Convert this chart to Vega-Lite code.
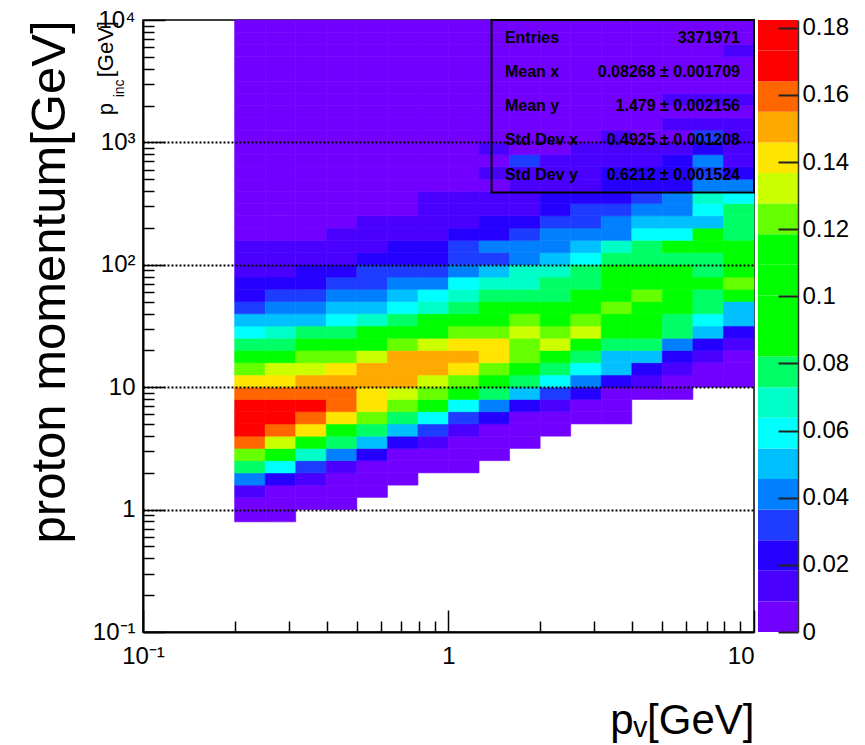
{
"$schema": "https://vega.github.io/schema/vega-lite/v6.json",
"background": "white",
"padding": {"left": 24, "top": 7, "right": 5, "bottom": 2},
"config": {"font": "Liberation Sans", "view": {"stroke": null}, "axis": {"domainColor": "black", "tickColor": "black", "labelColor": "black", "titleColor": "black", "labelFont": "Liberation Sans"}},
"spacing": 2,
"datasets": {
"xb": [{"c":0,"x0":0.1995,"x1":0.2512},{"c":1,"x0":0.2512,"x1":0.3162},{"c":2,"x0":0.3162,"x1":0.3981},{"c":3,"x0":0.3981,"x1":0.5012},{"c":4,"x0":0.5012,"x1":0.631},{"c":5,"x0":0.631,"x1":0.7943},{"c":6,"x0":0.7943,"x1":1},{"c":7,"x0":1,"x1":1.2589},{"c":8,"x0":1.2589,"x1":1.5849},{"c":9,"x0":1.5849,"x1":1.9953},{"c":10,"x0":1.9953,"x1":2.5119},{"c":11,"x0":2.5119,"x1":3.1623},{"c":12,"x0":3.1623,"x1":3.9811},{"c":13,"x0":3.9811,"x1":5.0119},{"c":14,"x0":5.0119,"x1":6.3096},{"c":15,"x0":6.3096,"x1":7.9433},{"c":16,"x0":7.9433,"x1":10}],
"yb": [{"r":0,"y0":0.7943,"y1":1},{"r":1,"y0":1,"y1":1.2589},{"r":2,"y0":1.2589,"y1":1.5849},{"r":3,"y0":1.5849,"y1":1.9953},{"r":4,"y0":1.9953,"y1":2.5119},{"r":5,"y0":2.5119,"y1":3.1623},{"r":6,"y0":3.1623,"y1":3.9811},{"r":7,"y0":3.9811,"y1":5.0119},{"r":8,"y0":5.0119,"y1":6.3096},{"r":9,"y0":6.3096,"y1":7.9433},{"r":10,"y0":7.9433,"y1":10},{"r":11,"y0":10,"y1":12.589},{"r":12,"y0":12.589,"y1":15.849},{"r":13,"y0":15.849,"y1":19.953},{"r":14,"y0":19.953,"y1":25.119},{"r":15,"y0":25.119,"y1":31.623},{"r":16,"y0":31.623,"y1":39.811},{"r":17,"y0":39.811,"y1":50.119},{"r":18,"y0":50.119,"y1":63.096},{"r":19,"y0":63.096,"y1":79.433},{"r":20,"y0":79.433,"y1":100},{"r":21,"y0":100,"y1":125.89},{"r":22,"y0":125.89,"y1":158.49},{"r":23,"y0":158.49,"y1":199.53},{"r":24,"y0":199.53,"y1":251.19},{"r":25,"y0":251.19,"y1":316.23},{"r":26,"y0":316.23,"y1":398.11},{"r":27,"y0":398.11,"y1":501.19},{"r":28,"y0":501.19,"y1":630.96},{"r":29,"y0":630.96,"y1":794.33},{"r":30,"y0":794.33,"y1":1000},{"r":31,"y0":1000,"y1":1258.9},{"r":32,"y0":1258.9,"y1":1584.9},{"r":33,"y0":1584.9,"y1":1995.3},{"r":34,"y0":1995.3,"y1":2511.9},{"r":35,"y0":2511.9,"y1":3162.3},{"r":36,"y0":3162.3,"y1":3981.1},{"r":37,"y0":3981.1,"y1":5011.9},{"r":38,"y0":5011.9,"y1":6309.6},{"r":39,"y0":6309.6,"y1":7943.3},{"r":40,"y0":7943.3,"y1":10000}],
"cb": [{"lo":0,"hi":0.00912},{"lo":0.00912,"hi":0.01823},{"lo":0.01823,"hi":0.02735},{"lo":0.02735,"hi":0.03646},{"lo":0.03646,"hi":0.04558},{"lo":0.04558,"hi":0.05469},{"lo":0.05469,"hi":0.06381},{"lo":0.06381,"hi":0.07292},{"lo":0.07292,"hi":0.08204},{"lo":0.08204,"hi":0.09115},{"lo":0.09115,"hi":0.10027},{"lo":0.10027,"hi":0.10938},{"lo":0.10938,"hi":0.1185},{"lo":0.1185,"hi":0.12761},{"lo":0.12761,"hi":0.13673},{"lo":0.13673,"hi":0.14584},{"lo":0.14584,"hi":0.15496},{"lo":0.15496,"hi":0.16407},{"lo":0.16407,"hi":0.17319},{"lo":0.17319,"hi":0.1823}],
"cells": [
{"c":0,"r":0,"v":0.0046},{"c":1,"r":0,"v":0.0046},
{"c":0,"r":1,"v":0.0046},{"c":1,"r":1,"v":0.0046},{"c":2,"r":1,"v":0.0046},{"c":3,"r":1,"v":0.0046},
{"c":0,"r":2,"v":0.0137},{"c":1,"r":2,"v":0.0046},{"c":2,"r":2,"v":0.0046},{"c":3,"r":2,"v":0.0046},{"c":4,"r":2,"v":0.0046},
{"c":0,"r":3,"v":0.041},{"c":1,"r":3,"v":0.0228},{"c":2,"r":3,"v":0.0137},{"c":3,"r":3,"v":0.0046},{"c":4,"r":3,"v":0.0046},{"c":5,"r":3,"v":0.0046},
{"c":0,"r":4,"v":0.0775},{"c":1,"r":4,"v":0.0592},{"c":2,"r":4,"v":0.0319},{"c":3,"r":4,"v":0.0137},{"c":4,"r":4,"v":0.0046},{"c":5,"r":4,"v":0.0046},{"c":6,"r":4,"v":0.0046},{"c":7,"r":4,"v":0.0046},
{"c":0,"r":5,"v":0.123},{"c":1,"r":5,"v":0.0957},{"c":2,"r":5,"v":0.0684},{"c":3,"r":5,"v":0.041},{"c":4,"r":5,"v":0.0228},{"c":5,"r":5,"v":0.0046},{"c":6,"r":5,"v":0.0046},{"c":7,"r":5,"v":0.0046},{"c":8,"r":5,"v":0.0046},
{"c":0,"r":6,"v":0.16},{"c":1,"r":6,"v":0.132},{"c":2,"r":6,"v":0.0957},{"c":3,"r":6,"v":0.0775},{"c":4,"r":6,"v":0.0501},{"c":5,"r":6,"v":0.0228},{"c":6,"r":6,"v":0.0137},{"c":7,"r":6,"v":0.0046},{"c":8,"r":6,"v":0.0046},{"c":9,"r":6,"v":0.0046},
{"c":0,"r":7,"v":0.169},{"c":1,"r":7,"v":0.16},{"c":2,"r":7,"v":0.141},{"c":3,"r":7,"v":0.0957},{"c":4,"r":7,"v":0.0775},{"c":5,"r":7,"v":0.0501},{"c":6,"r":7,"v":0.0319},{"c":7,"r":7,"v":0.0137},{"c":8,"r":7,"v":0.0046},{"c":9,"r":7,"v":0.0046},{"c":10,"r":7,"v":0.0046},
{"c":0,"r":8,"v":0.169},{"c":1,"r":8,"v":0.169},{"c":2,"r":8,"v":0.16},{"c":3,"r":8,"v":0.141},{"c":4,"r":8,"v":0.123},{"c":5,"r":8,"v":0.0775},{"c":6,"r":8,"v":0.0592},{"c":7,"r":8,"v":0.0319},{"c":8,"r":8,"v":0.0228},{"c":9,"r":8,"v":0.0046},{"c":10,"r":8,"v":0.0046},{"c":11,"r":8,"v":0.0046},{"c":12,"r":8,"v":0.0046},
{"c":0,"r":9,"v":0.169},{"c":1,"r":9,"v":0.169},{"c":2,"r":9,"v":0.169},{"c":3,"r":9,"v":0.16},{"c":4,"r":9,"v":0.141},{"c":5,"r":9,"v":0.123},{"c":6,"r":9,"v":0.0957},{"c":7,"r":9,"v":0.0592},{"c":8,"r":9,"v":0.041},{"c":9,"r":9,"v":0.0228},{"c":10,"r":9,"v":0.0137},{"c":11,"r":9,"v":0.0046},{"c":12,"r":9,"v":0.0046},
{"c":0,"r":10,"v":0.16},{"c":1,"r":10,"v":0.16},{"c":2,"r":10,"v":0.16},{"c":3,"r":10,"v":0.16},{"c":4,"r":10,"v":0.141},{"c":5,"r":10,"v":0.132},{"c":6,"r":10,"v":0.123},{"c":7,"r":10,"v":0.0957},{"c":8,"r":10,"v":0.0775},{"c":9,"r":10,"v":0.0501},{"c":10,"r":10,"v":0.0319},{"c":11,"r":10,"v":0.0228},{"c":12,"r":10,"v":0.0046},{"c":13,"r":10,"v":0.0046},{"c":14,"r":10,"v":0.0046},
{"c":0,"r":11,"v":0.141},{"c":1,"r":11,"v":0.141},{"c":2,"r":11,"v":0.15},{"c":3,"r":11,"v":0.15},{"c":4,"r":11,"v":0.15},{"c":5,"r":11,"v":0.15},{"c":6,"r":11,"v":0.132},{"c":7,"r":11,"v":0.123},{"c":8,"r":11,"v":0.0957},{"c":9,"r":11,"v":0.0775},{"c":10,"r":11,"v":0.0592},{"c":11,"r":11,"v":0.041},{"c":12,"r":11,"v":0.0228},{"c":13,"r":11,"v":0.0137},{"c":14,"r":11,"v":0.0046},{"c":15,"r":11,"v":0.0046},{"c":16,"r":11,"v":0.0046},
{"c":0,"r":12,"v":0.123},{"c":1,"r":12,"v":0.132},{"c":2,"r":12,"v":0.132},{"c":3,"r":12,"v":0.141},{"c":4,"r":12,"v":0.15},{"c":5,"r":12,"v":0.15},{"c":6,"r":12,"v":0.15},{"c":7,"r":12,"v":0.141},{"c":8,"r":12,"v":0.123},{"c":9,"r":12,"v":0.0957},{"c":10,"r":12,"v":0.0775},{"c":11,"r":12,"v":0.0592},{"c":12,"r":12,"v":0.0501},{"c":13,"r":12,"v":0.0228},{"c":14,"r":12,"v":0.0137},{"c":15,"r":12,"v":0.0046},{"c":16,"r":12,"v":0.0046},
{"c":0,"r":13,"v":0.0957},{"c":1,"r":13,"v":0.0957},{"c":2,"r":13,"v":0.123},{"c":3,"r":13,"v":0.123},{"c":4,"r":13,"v":0.132},{"c":5,"r":13,"v":0.15},{"c":6,"r":13,"v":0.15},{"c":7,"r":13,"v":0.15},{"c":8,"r":13,"v":0.141},{"c":9,"r":13,"v":0.123},{"c":10,"r":13,"v":0.0957},{"c":11,"r":13,"v":0.0775},{"c":12,"r":13,"v":0.0501},{"c":13,"r":13,"v":0.0501},{"c":14,"r":13,"v":0.0228},{"c":15,"r":13,"v":0.0137},{"c":16,"r":13,"v":0.0046},
{"c":0,"r":14,"v":0.0775},{"c":1,"r":14,"v":0.0775},{"c":2,"r":14,"v":0.0957},{"c":3,"r":14,"v":0.0957},{"c":4,"r":14,"v":0.0957},{"c":5,"r":14,"v":0.123},{"c":6,"r":14,"v":0.132},{"c":7,"r":14,"v":0.141},{"c":8,"r":14,"v":0.141},{"c":9,"r":14,"v":0.123},{"c":10,"r":14,"v":0.132},{"c":11,"r":14,"v":0.0957},{"c":12,"r":14,"v":0.0775},{"c":13,"r":14,"v":0.0775},{"c":14,"r":14,"v":0.041},{"c":15,"r":14,"v":0.0228},{"c":16,"r":14,"v":0.0137},
{"c":0,"r":15,"v":0.0592},{"c":1,"r":15,"v":0.0684},{"c":2,"r":15,"v":0.0775},{"c":3,"r":15,"v":0.0775},{"c":4,"r":15,"v":0.0957},{"c":5,"r":15,"v":0.0957},{"c":6,"r":15,"v":0.0957},{"c":7,"r":15,"v":0.123},{"c":8,"r":15,"v":0.123},{"c":9,"r":15,"v":0.132},{"c":10,"r":15,"v":0.123},{"c":11,"r":15,"v":0.132},{"c":12,"r":15,"v":0.0957},{"c":13,"r":15,"v":0.0957},{"c":14,"r":15,"v":0.0775},{"c":15,"r":15,"v":0.0501},{"c":16,"r":15,"v":0.0228},
{"c":0,"r":16,"v":0.0501},{"c":1,"r":16,"v":0.0501},{"c":2,"r":16,"v":0.0501},{"c":3,"r":16,"v":0.0592},{"c":4,"r":16,"v":0.0684},{"c":5,"r":16,"v":0.0775},{"c":6,"r":16,"v":0.0957},{"c":7,"r":16,"v":0.0957},{"c":8,"r":16,"v":0.0957},{"c":9,"r":16,"v":0.123},{"c":10,"r":16,"v":0.0957},{"c":11,"r":16,"v":0.123},{"c":12,"r":16,"v":0.0957},{"c":13,"r":16,"v":0.0957},{"c":14,"r":16,"v":0.0775},{"c":15,"r":16,"v":0.0592},{"c":16,"r":16,"v":0.0501},
{"c":0,"r":17,"v":0.0319},{"c":1,"r":17,"v":0.041},{"c":2,"r":17,"v":0.041},{"c":3,"r":17,"v":0.0501},{"c":4,"r":17,"v":0.0501},{"c":5,"r":17,"v":0.0592},{"c":6,"r":17,"v":0.0684},{"c":7,"r":17,"v":0.0775},{"c":8,"r":17,"v":0.0957},{"c":9,"r":17,"v":0.0957},{"c":10,"r":17,"v":0.0957},{"c":11,"r":17,"v":0.0957},{"c":12,"r":17,"v":0.123},{"c":13,"r":17,"v":0.0957},{"c":14,"r":17,"v":0.0957},{"c":15,"r":17,"v":0.0775},{"c":16,"r":17,"v":0.0501},
{"c":0,"r":18,"v":0.0228},{"c":1,"r":18,"v":0.0319},{"c":2,"r":18,"v":0.0319},{"c":3,"r":18,"v":0.041},{"c":4,"r":18,"v":0.041},{"c":5,"r":18,"v":0.0501},{"c":6,"r":18,"v":0.0592},{"c":7,"r":18,"v":0.0684},{"c":8,"r":18,"v":0.0775},{"c":9,"r":18,"v":0.0775},{"c":10,"r":18,"v":0.0775},{"c":11,"r":18,"v":0.0957},{"c":12,"r":18,"v":0.0957},{"c":13,"r":18,"v":0.123},{"c":14,"r":18,"v":0.0957},{"c":15,"r":18,"v":0.0775},{"c":16,"r":18,"v":0.0957},
{"c":0,"r":19,"v":0.0228},{"c":1,"r":19,"v":0.0228},{"c":2,"r":19,"v":0.0228},{"c":3,"r":19,"v":0.0319},{"c":4,"r":19,"v":0.0319},{"c":5,"r":19,"v":0.041},{"c":6,"r":19,"v":0.041},{"c":7,"r":19,"v":0.0592},{"c":8,"r":19,"v":0.0684},{"c":9,"r":19,"v":0.0684},{"c":10,"r":19,"v":0.0775},{"c":11,"r":19,"v":0.0775},{"c":12,"r":19,"v":0.0957},{"c":13,"r":19,"v":0.0957},{"c":14,"r":19,"v":0.0957},{"c":15,"r":19,"v":0.0957},{"c":16,"r":19,"v":0.123},
{"c":0,"r":20,"v":0.0137},{"c":1,"r":20,"v":0.0137},{"c":2,"r":20,"v":0.0228},{"c":3,"r":20,"v":0.0228},{"c":4,"r":20,"v":0.0319},{"c":5,"r":20,"v":0.0319},{"c":6,"r":20,"v":0.0319},{"c":7,"r":20,"v":0.041},{"c":8,"r":20,"v":0.0501},{"c":9,"r":20,"v":0.0684},{"c":10,"r":20,"v":0.0684},{"c":11,"r":20,"v":0.0775},{"c":12,"r":20,"v":0.0957},{"c":13,"r":20,"v":0.0957},{"c":14,"r":20,"v":0.0957},{"c":15,"r":20,"v":0.0775},{"c":16,"r":20,"v":0.0957},
{"c":0,"r":21,"v":0.0137},{"c":1,"r":21,"v":0.0137},{"c":2,"r":21,"v":0.0137},{"c":3,"r":21,"v":0.0137},{"c":4,"r":21,"v":0.0228},{"c":5,"r":21,"v":0.0228},{"c":6,"r":21,"v":0.0228},{"c":7,"r":21,"v":0.0319},{"c":8,"r":21,"v":0.0319},{"c":9,"r":21,"v":0.041},{"c":10,"r":21,"v":0.0501},{"c":11,"r":21,"v":0.0592},{"c":12,"r":21,"v":0.0775},{"c":13,"r":21,"v":0.0775},{"c":14,"r":21,"v":0.0775},{"c":15,"r":21,"v":0.0775},{"c":16,"r":21,"v":0.0957},
{"c":0,"r":22,"v":0.0137},{"c":1,"r":22,"v":0.0137},{"c":2,"r":22,"v":0.0137},{"c":3,"r":22,"v":0.0137},{"c":4,"r":22,"v":0.0137},{"c":5,"r":22,"v":0.0228},{"c":6,"r":22,"v":0.0228},{"c":7,"r":22,"v":0.0319},{"c":8,"r":22,"v":0.041},{"c":9,"r":22,"v":0.041},{"c":10,"r":22,"v":0.041},{"c":11,"r":22,"v":0.0501},{"c":12,"r":22,"v":0.0684},{"c":13,"r":22,"v":0.0775},{"c":14,"r":22,"v":0.0957},{"c":15,"r":22,"v":0.0957},{"c":16,"r":22,"v":0.0957},
{"c":0,"r":23,"v":0.0046},{"c":1,"r":23,"v":0.0046},{"c":2,"r":23,"v":0.0046},{"c":3,"r":23,"v":0.0137},{"c":4,"r":23,"v":0.0137},{"c":5,"r":23,"v":0.0137},{"c":6,"r":23,"v":0.0137},{"c":7,"r":23,"v":0.0228},{"c":8,"r":23,"v":0.0228},{"c":9,"r":23,"v":0.0319},{"c":10,"r":23,"v":0.041},{"c":11,"r":23,"v":0.041},{"c":12,"r":23,"v":0.041},{"c":13,"r":23,"v":0.0592},{"c":14,"r":23,"v":0.0592},{"c":15,"r":23,"v":0.0957},{"c":16,"r":23,"v":0.0775},
{"c":0,"r":24,"v":0.0046},{"c":1,"r":24,"v":0.0046},{"c":2,"r":24,"v":0.0046},{"c":3,"r":24,"v":0.0046},{"c":4,"r":24,"v":0.0137},{"c":5,"r":24,"v":0.0137},{"c":6,"r":24,"v":0.0137},{"c":7,"r":24,"v":0.0137},{"c":8,"r":24,"v":0.0228},{"c":9,"r":24,"v":0.0228},{"c":10,"r":24,"v":0.0319},{"c":11,"r":24,"v":0.0319},{"c":12,"r":24,"v":0.041},{"c":13,"r":24,"v":0.0501},{"c":14,"r":24,"v":0.0501},{"c":15,"r":24,"v":0.0501},{"c":16,"r":24,"v":0.0775},
{"c":0,"r":25,"v":0.0046},{"c":1,"r":25,"v":0.0046},{"c":2,"r":25,"v":0.0046},{"c":3,"r":25,"v":0.0046},{"c":4,"r":25,"v":0.0046},{"c":5,"r":25,"v":0.0046},{"c":6,"r":25,"v":0.0137},{"c":7,"r":25,"v":0.0137},{"c":8,"r":25,"v":0.0137},{"c":9,"r":25,"v":0.0137},{"c":10,"r":25,"v":0.0228},{"c":11,"r":25,"v":0.0319},{"c":12,"r":25,"v":0.0319},{"c":13,"r":25,"v":0.041},{"c":14,"r":25,"v":0.041},{"c":15,"r":25,"v":0.0592},{"c":16,"r":25,"v":0.0775},
{"c":0,"r":26,"v":0.0046},{"c":1,"r":26,"v":0.0046},{"c":2,"r":26,"v":0.0046},{"c":3,"r":26,"v":0.0046},{"c":4,"r":26,"v":0.0046},{"c":5,"r":26,"v":0.0046},{"c":6,"r":26,"v":0.0137},{"c":7,"r":26,"v":0.0137},{"c":8,"r":26,"v":0.0137},{"c":9,"r":26,"v":0.0137},{"c":10,"r":26,"v":0.0228},{"c":11,"r":26,"v":0.0228},{"c":12,"r":26,"v":0.0228},{"c":13,"r":26,"v":0.0319},{"c":14,"r":26,"v":0.041},{"c":15,"r":26,"v":0.0684},{"c":16,"r":26,"v":0.0592},
{"c":0,"r":27,"v":0.0046},{"c":1,"r":27,"v":0.0046},{"c":2,"r":27,"v":0.0046},{"c":3,"r":27,"v":0.0046},{"c":4,"r":27,"v":0.0046},{"c":5,"r":27,"v":0.0046},{"c":6,"r":27,"v":0.0046},{"c":7,"r":27,"v":0.0046},{"c":8,"r":27,"v":0.0046},{"c":9,"r":27,"v":0.0137},{"c":10,"r":27,"v":0.0137},{"c":11,"r":27,"v":0.0137},{"c":12,"r":27,"v":0.0228},{"c":13,"r":27,"v":0.0228},{"c":14,"r":27,"v":0.0228},{"c":15,"r":27,"v":0.041},{"c":16,"r":27,"v":0.041},
{"c":0,"r":28,"v":0.0046},{"c":1,"r":28,"v":0.0046},{"c":2,"r":28,"v":0.0046},{"c":3,"r":28,"v":0.0046},{"c":4,"r":28,"v":0.0046},{"c":5,"r":28,"v":0.0046},{"c":6,"r":28,"v":0.0046},{"c":7,"r":28,"v":0.0046},{"c":8,"r":28,"v":0.0137},{"c":9,"r":28,"v":0.0137},{"c":10,"r":28,"v":0.0137},{"c":11,"r":28,"v":0.0137},{"c":12,"r":28,"v":0.0228},{"c":13,"r":28,"v":0.0228},{"c":14,"r":28,"v":0.0228},{"c":15,"r":28,"v":0.0319},{"c":16,"r":28,"v":0.0228},
{"c":0,"r":29,"v":0.0046},{"c":1,"r":29,"v":0.0046},{"c":2,"r":29,"v":0.0046},{"c":3,"r":29,"v":0.0046},{"c":4,"r":29,"v":0.0046},{"c":5,"r":29,"v":0.0046},{"c":6,"r":29,"v":0.0046},{"c":7,"r":29,"v":0.0046},{"c":8,"r":29,"v":0.0046},{"c":9,"r":29,"v":0.0319},{"c":10,"r":29,"v":0.0137},{"c":11,"r":29,"v":0.0137},{"c":12,"r":29,"v":0.0137},{"c":13,"r":29,"v":0.0137},{"c":14,"r":29,"v":0.0228},{"c":15,"r":29,"v":0.041},{"c":16,"r":29,"v":0.0137},
{"c":0,"r":30,"v":0.0046},{"c":1,"r":30,"v":0.0046},{"c":2,"r":30,"v":0.0046},{"c":3,"r":30,"v":0.0046},{"c":4,"r":30,"v":0.0046},{"c":5,"r":30,"v":0.0046},{"c":6,"r":30,"v":0.0046},{"c":7,"r":30,"v":0.0046},{"c":8,"r":30,"v":0.0137},{"c":9,"r":30,"v":0.0046},{"c":10,"r":30,"v":0.0046},{"c":11,"r":30,"v":0.0137},{"c":12,"r":30,"v":0.0137},{"c":13,"r":30,"v":0.0137},{"c":14,"r":30,"v":0.0137},{"c":15,"r":30,"v":0.0228},{"c":16,"r":30,"v":0.0137},
{"c":0,"r":31,"v":0.0046},{"c":1,"r":31,"v":0.0046},{"c":2,"r":31,"v":0.0046},{"c":3,"r":31,"v":0.0046},{"c":4,"r":31,"v":0.0046},{"c":5,"r":31,"v":0.0046},{"c":6,"r":31,"v":0.0046},{"c":7,"r":31,"v":0.0046},{"c":8,"r":31,"v":0.0046},{"c":9,"r":31,"v":0.0046},{"c":10,"r":31,"v":0.0046},{"c":11,"r":31,"v":0.0046},{"c":12,"r":31,"v":0.0137},{"c":13,"r":31,"v":0.0046},{"c":14,"r":31,"v":0.0046},{"c":15,"r":31,"v":0.0319},{"c":16,"r":31,"v":0.0137},
{"c":0,"r":32,"v":0.0046},{"c":1,"r":32,"v":0.0046},{"c":2,"r":32,"v":0.0046},{"c":3,"r":32,"v":0.0046},{"c":4,"r":32,"v":0.0046},{"c":5,"r":32,"v":0.0046},{"c":6,"r":32,"v":0.0046},{"c":7,"r":32,"v":0.0046},{"c":8,"r":32,"v":0.0046},{"c":9,"r":32,"v":0.0046},{"c":10,"r":32,"v":0.0046},{"c":11,"r":32,"v":0.0046},{"c":12,"r":32,"v":0.0046},{"c":13,"r":32,"v":0.0046},{"c":14,"r":32,"v":0.0137},{"c":15,"r":32,"v":0.0137},{"c":16,"r":32,"v":0.0137},
{"c":0,"r":33,"v":0.0046},{"c":1,"r":33,"v":0.0046},{"c":2,"r":33,"v":0.0046},{"c":3,"r":33,"v":0.0046},{"c":4,"r":33,"v":0.0046},{"c":5,"r":33,"v":0.0046},{"c":6,"r":33,"v":0.0046},{"c":7,"r":33,"v":0.0046},{"c":8,"r":33,"v":0.0046},{"c":9,"r":33,"v":0.0046},{"c":10,"r":33,"v":0.0046},{"c":11,"r":33,"v":0.0046},{"c":12,"r":33,"v":0.0046},{"c":13,"r":33,"v":0.0046},{"c":14,"r":33,"v":0.0046},{"c":15,"r":33,"v":0.0046},{"c":16,"r":33,"v":0.0046},
{"c":0,"r":34,"v":0.0046},{"c":1,"r":34,"v":0.0046},{"c":2,"r":34,"v":0.0046},{"c":3,"r":34,"v":0.0046},{"c":4,"r":34,"v":0.0046},{"c":5,"r":34,"v":0.0046},{"c":6,"r":34,"v":0.0046},{"c":7,"r":34,"v":0.0046},{"c":8,"r":34,"v":0.0046},{"c":9,"r":34,"v":0.0046},{"c":10,"r":34,"v":0.0046},{"c":11,"r":34,"v":0.0046},{"c":12,"r":34,"v":0.0046},{"c":13,"r":34,"v":0.0046},{"c":14,"r":34,"v":0.0137},{"c":15,"r":34,"v":0.0137},{"c":16,"r":34,"v":0.0137},
{"c":0,"r":35,"v":0.0046},{"c":1,"r":35,"v":0.0046},{"c":2,"r":35,"v":0.0046},{"c":3,"r":35,"v":0.0046},{"c":4,"r":35,"v":0.0046},{"c":5,"r":35,"v":0.0046},{"c":6,"r":35,"v":0.0046},{"c":7,"r":35,"v":0.0046},{"c":8,"r":35,"v":0.0046},{"c":9,"r":35,"v":0.0046},{"c":10,"r":35,"v":0.0046},{"c":11,"r":35,"v":0.0046},{"c":12,"r":35,"v":0.0046},{"c":13,"r":35,"v":0.0046},{"c":14,"r":35,"v":0.0046},{"c":15,"r":35,"v":0.0046},{"c":16,"r":35,"v":0.0046},
{"c":0,"r":36,"v":0.0046},{"c":1,"r":36,"v":0.0046},{"c":2,"r":36,"v":0.0046},{"c":3,"r":36,"v":0.0046},{"c":4,"r":36,"v":0.0046},{"c":5,"r":36,"v":0.0046},{"c":6,"r":36,"v":0.0046},{"c":7,"r":36,"v":0.0046},{"c":8,"r":36,"v":0.0046},{"c":9,"r":36,"v":0.0046},{"c":10,"r":36,"v":0.0046},{"c":11,"r":36,"v":0.0046},{"c":12,"r":36,"v":0.0046},{"c":13,"r":36,"v":0.0046},{"c":14,"r":36,"v":0.0046},{"c":15,"r":36,"v":0.0046},{"c":16,"r":36,"v":0.0046},
{"c":0,"r":37,"v":0.0046},{"c":1,"r":37,"v":0.0046},{"c":2,"r":37,"v":0.0046},{"c":3,"r":37,"v":0.0046},{"c":4,"r":37,"v":0.0046},{"c":5,"r":37,"v":0.0046},{"c":6,"r":37,"v":0.0046},{"c":7,"r":37,"v":0.0046},{"c":8,"r":37,"v":0.0046},{"c":9,"r":37,"v":0.0046},{"c":10,"r":37,"v":0.0046},{"c":11,"r":37,"v":0.0046},{"c":12,"r":37,"v":0.0046},{"c":13,"r":37,"v":0.0046},{"c":14,"r":37,"v":0.0046},{"c":15,"r":37,"v":0.0046},{"c":16,"r":37,"v":0.0046},
{"c":0,"r":38,"v":0.0046},{"c":1,"r":38,"v":0.0046},{"c":2,"r":38,"v":0.0046},{"c":3,"r":38,"v":0.0046},{"c":4,"r":38,"v":0.0046},{"c":5,"r":38,"v":0.0046},{"c":6,"r":38,"v":0.0046},{"c":7,"r":38,"v":0.0046},{"c":8,"r":38,"v":0.0046},{"c":9,"r":38,"v":0.0046},{"c":10,"r":38,"v":0.0046},{"c":11,"r":38,"v":0.0046},{"c":12,"r":38,"v":0.0046},{"c":13,"r":38,"v":0.0046},{"c":14,"r":38,"v":0.0046},{"c":15,"r":38,"v":0.0046},{"c":16,"r":38,"v":0.0137},
{"c":0,"r":39,"v":0.0046},{"c":1,"r":39,"v":0.0046},{"c":2,"r":39,"v":0.0046},{"c":3,"r":39,"v":0.0046},{"c":4,"r":39,"v":0.0046},{"c":5,"r":39,"v":0.0046},{"c":6,"r":39,"v":0.0046},{"c":7,"r":39,"v":0.0046},{"c":8,"r":39,"v":0.0046},{"c":9,"r":39,"v":0.0046},{"c":10,"r":39,"v":0.0046},{"c":11,"r":39,"v":0.0046},{"c":12,"r":39,"v":0.0046},{"c":13,"r":39,"v":0.0046},{"c":14,"r":39,"v":0.0046},{"c":15,"r":39,"v":0.0046},{"c":16,"r":39,"v":0.0046},
{"c":0,"r":40,"v":0.0046},{"c":1,"r":40,"v":0.0046},{"c":2,"r":40,"v":0.0046},{"c":3,"r":40,"v":0.0046},{"c":4,"r":40,"v":0.0046},{"c":5,"r":40,"v":0.0046},{"c":6,"r":40,"v":0.0046},{"c":7,"r":40,"v":0.0046},{"c":8,"r":40,"v":0.0046},{"c":9,"r":40,"v":0.0046},{"c":10,"r":40,"v":0.0046},{"c":11,"r":40,"v":0.0046},{"c":12,"r":40,"v":0.0046},{"c":13,"r":40,"v":0.0046},{"c":14,"r":40,"v":0.0046},{"c":15,"r":40,"v":0.0046},{"c":16,"r":40,"v":0.0046}
]
},
"hconcat": [
{
"width": 611, "height": 612,
"view": {"stroke": "black", "strokeWidth": 1.5},
"layer": [
{
"data": {"name": "cells"},
"transform": [
{"lookup": "c", "from": {"data": {"name": "xb"}, "key": "c", "fields": ["x0", "x1"]}},
{"lookup": "r", "from": {"data": {"name": "yb"}, "key": "r", "fields": ["y0", "y1"]}}
],
"mark": {"type": "rect", "strokeWidth": 0.6},
"encoding": {
"x": {"field": "x0", "type": "quantitative", "scale": {"type": "log", "domain": [0.1, 10], "nice": false},
"axis": {"values": [0.1,0.2,0.3,0.4,0.5,0.6,0.7,0.8,0.9,1,2,3,4,5,6,7,8,9,10],
"labelExpr": "datum.value==0.1?'10⁻¹':datum.value==1?'1':datum.value==10?'10':''",
"tickSize": {"condition": {"test": "datum.value==0.1||datum.value==1||datum.value==10", "value": -22}, "value": -11},
"labelPadding": 34, "labelFontSize": 24, "labelOverlap": false, "labelFlush": false, "labelBound": false,
"labelAlign": {"condition": {"test": "datum.value==10", "value": "right"}, "value": "center"},
"tickWidth": 1.5, "domainWidth": 2, "grid": false, "zindex": 1,
"title": "pᵥ[GeV]", "titleFont": "Liberation Sans", "titleFontSize": 42, "titleFontWeight": "normal", "titleAnchor": "end", "titlePadding": 21}},
"x2": {"field": "x1"},
"y": {"field": "y0", "type": "quantitative", "scale": {"type": "log", "domain": [0.1, 10000], "nice": false},
"axis": {"values": [0.1,0.2,0.3,0.4,0.5,0.6,0.7,0.8,0.9,1,2,3,4,5,6,7,8,9,10,20,30,40,50,60,70,80,90,100,200,300,400,500,600,700,800,900,1000,2000,3000,4000,5000,6000,7000,8000,9000,10000],
"labelExpr": "datum.value==10000?'10⁴':datum.value==1000?'10³':datum.value==100?'10²':datum.value==10?'10':datum.value==1?'1':datum.value==0.1?'10⁻¹':''",
"tickSize": {"condition": {"test": "datum.value==0.1||datum.value==1||datum.value==10||datum.value==100||datum.value==1000||datum.value==10000", "value": -22}, "value": -11},
"labelPadding": 30, "labelFontSize": 24, "labelOverlap": false, "labelFlush": false, "labelBound": false, "labelBaseline": "middle",
"tickWidth": 1.5, "domainWidth": 2, "zindex": 1,
"grid": true, "gridColor": "black", "gridDash": [2, 2], "gridWidth": 1.8,
"gridOpacity": {"condition": {"test": "datum.value==1||datum.value==10||datum.value==100||datum.value==1000", "value": 1}, "value": 0},
"title": "proton momentum[GeV]", "titleFont": "Liberation Sans", "titleFontSize": 49, "titleFontWeight": "normal", "titleAnchor": "end", "titlePadding": 18}},
"y2": {"field": "y1"},
"color": {"field": "v", "type": "quantitative", "legend": null, "scale": {"type": "threshold", "domain": [0.00912,0.01823,0.02735,0.03646,0.04558,0.05469,0.06381,0.07292,0.08204,0.09115,0.10027,0.10938,0.1185,0.12761,0.13673,0.14584,0.15496,0.16407,0.17319], "range": ["#7100ff","#4a00ff","#2600ff","#1e3cff","#0080ff","#00c0ff","#00ffff","#00ffc8","#00ff66","#00ff00","#00ff00","#00ff00","#00ff00","#66ff00","#ccff00","#ffe600","#ffaa00","#ff6600","#ff0000","#ff0000"]}},
"stroke": {"field": "v", "type": "quantitative", "legend": null, "scale": {"type": "threshold", "domain": [0.00912,0.01823,0.02735,0.03646,0.04558,0.05469,0.06381,0.07292,0.08204,0.09115,0.10027,0.10938,0.1185,0.12761,0.13673,0.14584,0.15496,0.16407,0.17319], "range": ["#7100ff","#4a00ff","#2600ff","#1e3cff","#0080ff","#00c0ff","#00ffff","#00ffc8","#00ff66","#00ff00","#00ff00","#00ff00","#00ff00","#66ff00","#ccff00","#ffe600","#ffaa00","#ff6600","#ff0000","#ff0000"]}}
}
},
{
"data": {"values": [{}]},
"mark": {"type": "rect", "fillOpacity": 0, "stroke": "black", "strokeWidth": 2},
"encoding": {"x": {"datum": 1.3836, "type": "quantitative"}, "x2": {"datum": 10}, "y": {"datum": 388.9, "type": "quantitative"}, "y2": {"datum": 10000}}
},
{
"data": {"values": [{}]},
"mark": {"type": "text", "align": "left", "baseline": "alphabetic", "font": "Liberation Sans", "fontSize": 16, "fontWeight": "bold", "lineHeight": 34.3, "color": "black"},
"encoding": {"x": {"datum": 1.53, "type": "quantitative"}, "y": {"datum": 6538, "type": "quantitative"}, "text": {"value": ["Entries", "Mean x", "Mean y", "Std Dev x", "Std Dev y"]}}
},
{
"data": {"values": [{}]},
"mark": {"type": "text", "align": "right", "baseline": "alphabetic", "font": "Liberation Sans", "fontSize": 16, "fontWeight": "bold", "lineHeight": 34.3, "color": "black"},
"encoding": {"x": {"datum": 9.0, "type": "quantitative"}, "y": {"datum": 6538, "type": "quantitative"}, "text": {"value": ["3371971", "0.08268 ± 0.001709", "1.479 ± 0.002156", "0.4925 ± 0.001208", "0.6212 ± 0.001524"]}}
},
{
"data": {"values": [{}]},
"mark": {"type": "text", "angle": 270, "align": "left", "baseline": "alphabetic", "font": "Liberation Sans", "fontSize": 22, "color": "black"},
"encoding": {"x": {"datum": 0.0796, "type": "quantitative"}, "y": {"datum": 1665, "type": "quantitative"}, "text": {"value": "p"}}
},
{
"data": {"values": [{}]},
"mark": {"type": "text", "angle": 270, "align": "left", "baseline": "alphabetic", "font": "Liberation Sans", "fontSize": 14, "color": "black"},
"encoding": {"x": {"datum": 0.0865, "type": "quantitative"}, "y": {"datum": 2336, "type": "quantitative"}, "text": {"value": "inc"}}
},
{
"data": {"values": [{}]},
"mark": {"type": "text", "angle": 270, "align": "left", "baseline": "alphabetic", "font": "Liberation Sans", "fontSize": 22, "color": "black"},
"encoding": {"x": {"datum": 0.0796, "type": "quantitative"}, "y": {"datum": 3404, "type": "quantitative"}, "text": {"value": "[GeV]"}}
}
]
},
{
"width": 40, "height": 612,
"view": {"stroke": null},
"data": {"name": "cb"},
"mark": {"type": "rect"},
"encoding": {
"y": {"field": "lo", "type": "quantitative", "scale": {"domain": [0, 0.1823], "nice": false, "zero": false},
"axis": {"orient": "right", "values": [0,0.02,0.04,0.06,0.08,0.1,0.12,0.14,0.16,0.18], "format": "~g", "tickSize": -20, "tickWidth": 2, "tickColor": "#222222", "labelPadding": 24, "labelFontSize": 24, "labelOverlap": false, "labelFlush": false, "labelBound": false, "labelBaseline": "middle", "domainColor": "#333333", "domainWidth": 1.5, "grid": false, "title": null, "zindex": 1}},
"y2": {"field": "hi"},
"color": {"field": "lo", "type": "quantitative", "legend": null, "scale": {"type": "threshold", "domain": [0.00912,0.01823,0.02735,0.03646,0.04558,0.05469,0.06381,0.07292,0.08204,0.09115,0.10027,0.10938,0.1185,0.12761,0.13673,0.14584,0.15496,0.16407,0.17319], "range": ["#7100ff","#4a00ff","#2600ff","#1e3cff","#0080ff","#00c0ff","#00ffff","#00ffc8","#00ff66","#00ff00","#00ff00","#00ff00","#00ff00","#66ff00","#ccff00","#ffe600","#ffaa00","#ff6600","#ff0000","#ff0000"]}}
}
}
]
}
